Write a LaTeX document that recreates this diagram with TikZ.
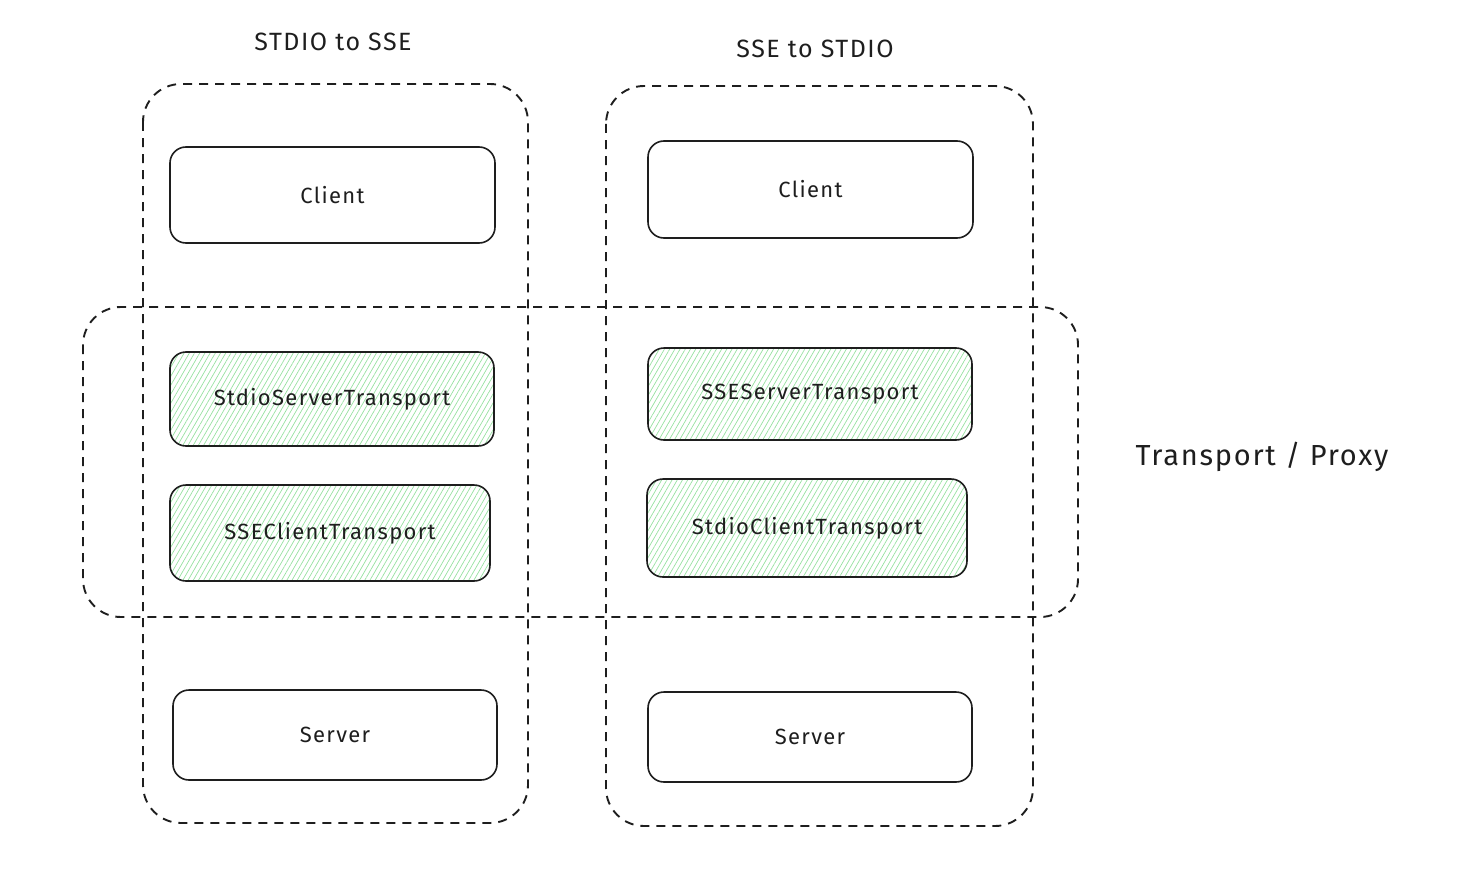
\documentclass[tikz,border=0pt]{standalone}
\usepackage{fontspec}
\setmainfont{Fira Sans}[LetterSpace=6]
\usetikzlibrary{patterns.meta}
\definecolor{hatch}{RGB}{150,225,160}
\definecolor{ink}{RGB}{30,30,30}
\tikzset{
  container/.style={draw=ink, line width=1.9pt, dash pattern=on 9pt off 7pt, rounded corners=38pt},
  plainbox/.style={draw=ink, line width=1.6pt, rounded corners=16pt, fill=white, font=\fontsize{22}{26}\selectfont, text=ink},
  greenbox/.style={draw=ink, line width=1.6pt, rounded corners=16pt, font=\fontsize{22}{26}\selectfont, text=ink,
    pattern={Lines[angle=60,distance=4.5pt,line width=0.7pt]}, pattern color=hatch},
  title/.style={font=\fontsize{25}{30}\selectfont, text=ink},
}
\begin{document}
\begin{tikzpicture}[x=1pt,y=-1pt]
\useasboundingbox (0,0) rectangle (1458,888);
% containers
\draw[container] (143,84) rectangle (528,823);
\draw[container] (606,86) rectangle (1033,826);
\draw[container] (83,307) rectangle (1078,617);
% titles
\node[title] (t1) at (333,42) {STDIO to SSE};
\node[title] (t2) at (815,49) {SSE to STDIO};
\node[font=\fontsize{29}{34}\selectfont, text=ink] (tp) at (1262,457) {Transport / Proxy};
% left column
\node[plainbox, minimum width=325pt, minimum height=96pt] (c1) at (332.5,195) {Client};
\node[greenbox, minimum width=324pt, minimum height=94pt] (ss1) at (332,399) {StdioServerTransport};
\node[greenbox, minimum width=320pt, minimum height=96pt] (sc1) at (330,533) {SSEClientTransport};
\node[plainbox, minimum width=324pt, minimum height=90pt] (s1) at (335,735) {Server};
% right column
\node[plainbox, minimum width=325pt, minimum height=97pt] (c2) at (810.5,189.5) {Client};
\node[greenbox, minimum width=324pt, minimum height=92pt] (ss2) at (810,394) {SSEServerTransport};
\node[greenbox, minimum width=320pt, minimum height=98pt] (sc2) at (807,528) {StdioClientTransport};
\node[plainbox, minimum width=324pt, minimum height=90pt] (s2) at (810,737) {Server};
\end{tikzpicture}
\end{document}
